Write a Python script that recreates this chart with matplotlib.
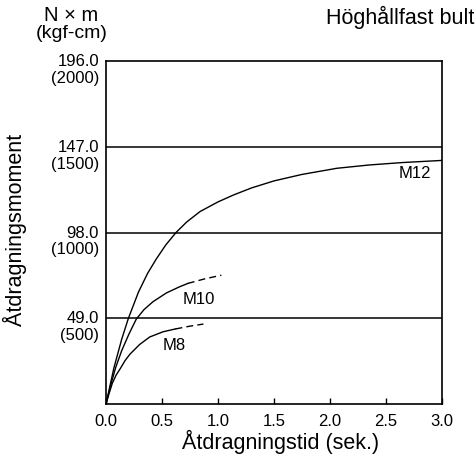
# Tightening torque versus tightening time for high strength bolts
import matplotlib.pyplot as plt

plt.rcParams['font.family'] = ['Liberation Sans', 'DejaVu Sans']

# values (time in s, torque in N*m)
m12_t = [0, 0.07, 0.14, 0.2, 0.29, 0.37, 0.45, 0.535, 0.625, 0.72, 0.84, 1.0, 1.14, 1.3, 1.5, 1.75, 2.06, 2.35, 2.65, 3.0]
m12_y = [0, 20.5, 37, 49, 64, 74.5, 83, 91, 98, 104, 110, 115.5, 119.5, 123.5, 127.5, 131.2, 134.7, 136.6, 138, 139.2]

m10_t = [0, 0.045, 0.087, 0.14, 0.205, 0.27, 0.34, 0.42, 0.54, 0.65, 0.73]
m10_y = [0, 11.5, 21, 30.5, 40, 48.5, 54, 58.5, 63.5, 66.8, 68.9]
m10_dash_t = [0.73, 0.88, 1.03]
m10_dash_y = [68.9, 71.5, 73.6]

m8_t = [0, 0.025, 0.056, 0.09, 0.13, 0.17, 0.214, 0.3, 0.39, 0.51, 0.62]
m8_y = [0, 5.5, 11.8, 16.5, 20.5, 24.8, 28.5, 34, 38.3, 41.3, 42.9]
m8_dash_t = [0.62, 0.75, 0.87]
m8_dash_y = [42.9, 44.5, 45.7]

x_ticks = [0.0, 0.5, 1.0, 1.5, 2.0, 2.5, 3.0]
y_levels = [49.0, 98.0, 147.0, 196.0]
y_kgf = [500, 1000, 1500, 2000]

fig = plt.figure(figsize=(4.76, 4.62), dpi=100)
ax = fig.add_axes([0.2227, 0.1255, 0.7059, 0.7424])

lw = 1.0
dash = (0, (5, 3))
ax.plot(m12_t, m12_y, color='black', lw=lw)
ax.plot(m10_t, m10_y, color='black', lw=lw)
ax.plot(m10_dash_t, m10_dash_y, color='black', lw=lw, ls=dash)
ax.plot(m8_t, m8_y, color='black', lw=lw)
ax.plot(m8_dash_t, m8_dash_y, color='black', lw=lw, ls=dash)

for lv in y_levels[:-1]:
    ax.axhline(lv, color='black', lw=1.1)

ax.set_xlim(0, 3)
ax.set_ylim(0, 196)
for s in ax.spines.values():
    s.set_linewidth(1.2)

ax.set_xticks(x_ticks)
ax.set_xticklabels([f"{v:.1f}" for v in x_ticks])
ax.tick_params(axis='x', direction='in', length=4, width=1, labelsize=12, pad=7)
ax.set_yticks([])

for lv, kg in zip(y_levels, y_kgf):
    ax.annotate(f"{lv:.1f}", xy=(0, lv), xycoords='data', xytext=(-5, -0.5),
                textcoords='offset points', ha='right', va='center', fontsize=12)
    ax.annotate(f"({kg})", xy=(0, lv), xycoords='data', xytext=(-5, -12.5),
                textcoords='offset points', ha='right', va='center', fontsize=12)

ax.text(2.76, 132, "M12", ha='center', va='center', fontsize=12)
ax.text(0.83, 59.8, "M10", ha='center', va='center', fontsize=12)
ax.text(0.61, 33.7, "M8", ha='center', va='center', fontsize=12)

fig.text(0.590, 0.044, "Åtdragningstid (sek.)", ha='center', va='center', fontsize=15.5)
fig.text(0.032, 0.502, "Åtdragningsmoment", rotation=90, ha='center', va='center', fontsize=15.5)

fig.text(0.150, 0.967, "N × m", ha='center', va='center', fontsize=14.5)
fig.text(0.150, 0.928, "(kgf-cm)", ha='center', va='center', fontsize=14)
fig.text(0.996, 0.962, "Höghållfast bult", ha='right', va='center', fontsize=15.5)

fig.savefig("out.png", dpi=100)
